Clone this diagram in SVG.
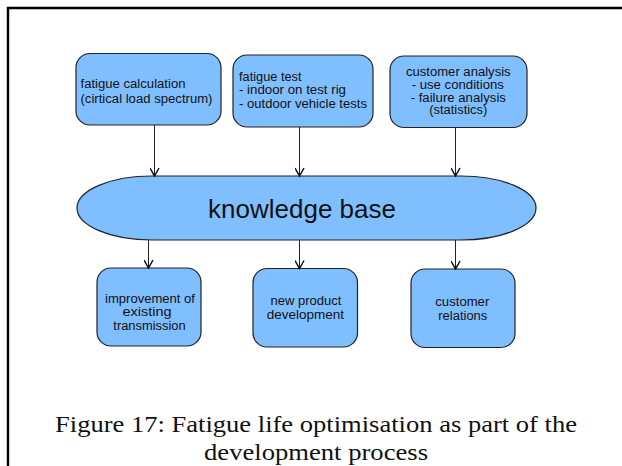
<svg xmlns="http://www.w3.org/2000/svg" width="622" height="466" viewBox="0 0 622 466">
<style>
.box{fill:#80bfff;stroke:#222;stroke-width:1.2}
.t{font-family:"Liberation Sans",Arial,sans-serif;font-size:12.5px;fill:#111}
.c{text-anchor:middle}
.big{font-family:"Liberation Sans",Arial,sans-serif;font-size:25px;fill:#111;text-anchor:middle}
.cap{font-family:"Liberation Serif","Times New Roman",serif;font-size:24px;fill:#111;text-anchor:middle}
.ln{stroke:#222;stroke-width:1;fill:none}
</style>
<defs>
<marker id="ah" viewBox="0 0 10 10" refX="9" refY="5" markerWidth="10" markerHeight="10" markerUnits="userSpaceOnUse" orient="auto">
<path d="M1,0.5 L9,5 L1,9.5" fill="none" stroke="#111" stroke-width="1.5"/>
</marker>
</defs>
<rect width="622" height="466" fill="#fff"/>
<path d="M8,466 V8 H622" fill="none" stroke="#000" stroke-width="2.4"/>
<g id="n1">
<rect class="box" x="76" y="53.5" width="145" height="71.5" rx="14"/>
<text class="t" x="80.5" y="87.5" textLength="105" lengthAdjust="spacingAndGlyphs">fatigue calculation</text>
<text class="t" x="80.5" y="102.5" textLength="132" lengthAdjust="spacingAndGlyphs">(cirtical load spectrum)</text>
</g>
<g id="n2">
<rect class="box" x="233" y="55" width="140" height="72" rx="14"/>
<text class="t" x="239" y="80.7" textLength="62.5" lengthAdjust="spacingAndGlyphs">fatigue test</text>
<text class="t" x="239" y="94.2" textLength="107" lengthAdjust="spacingAndGlyphs">- indoor on test rig</text>
<text class="t" x="239" y="107.5" textLength="128" lengthAdjust="spacingAndGlyphs">- outdoor vehicle tests</text>
</g>
<g id="n3">
<rect class="box" x="390" y="56" width="137" height="71.5" rx="14"/>
<text class="t c" x="458.3" y="75.7" textLength="104.7" lengthAdjust="spacingAndGlyphs">customer analysis</text>
<text class="t c" x="457.8" y="88.7" textLength="92.3" lengthAdjust="spacingAndGlyphs">- use conditions</text>
<text class="t c" x="458.3" y="101.7" textLength="95.3" lengthAdjust="spacingAndGlyphs">- failure analysis</text>
<text class="t c" x="458.3" y="114.3" textLength="58" lengthAdjust="spacingAndGlyphs">(statistics)</text>
</g>
<g id="kb">
<rect class="box" x="77" y="176" width="459" height="64" rx="75" ry="32"/>
<text class="big" x="302" y="218" textLength="188" lengthAdjust="spacingAndGlyphs">knowledge base</text>
</g>
<g id="o1">
<rect class="box" x="97" y="268" width="104" height="78" rx="14"/>
<text class="t c" x="150" y="302.5" textLength="90" lengthAdjust="spacingAndGlyphs">improvement of</text>
<text class="t c" x="147" y="316" textLength="49" lengthAdjust="spacingAndGlyphs">existing</text>
<text class="t c" x="149.5" y="329.5" textLength="72.3" lengthAdjust="spacingAndGlyphs">transmission</text>
</g>
<g id="o2">
<rect class="box" x="253" y="268.5" width="104.5" height="78.5" rx="14"/>
<text class="t c" x="306" y="305" textLength="71" lengthAdjust="spacingAndGlyphs">new product</text>
<text class="t c" x="305.3" y="319" textLength="77.3" lengthAdjust="spacingAndGlyphs">development</text>
</g>
<g id="o3">
<rect class="box" x="411" y="269" width="104" height="78.5" rx="14"/>
<text class="t c" x="462.3" y="305.5" textLength="54" lengthAdjust="spacingAndGlyphs">customer</text>
<text class="t c" x="462.8" y="319.5" textLength="49" lengthAdjust="spacingAndGlyphs">relations</text>
</g>
<g id="edges">
<line class="ln" x1="154.5" y1="125" x2="154.5" y2="176" marker-end="url(#ah)"/>
<line class="ln" x1="299.5" y1="127" x2="299.5" y2="176" marker-end="url(#ah)"/>
<line class="ln" x1="455.5" y1="127.5" x2="455.5" y2="176" marker-end="url(#ah)"/>
<line class="ln" x1="148.5" y1="240" x2="148.5" y2="268" marker-end="url(#ah)"/>
<line class="ln" x1="299.5" y1="240" x2="299.5" y2="268.5" marker-end="url(#ah)"/>
<line class="ln" x1="455.5" y1="240" x2="455.5" y2="269" marker-end="url(#ah)"/>
</g>
<text class="cap" x="316" y="432" textLength="522" lengthAdjust="spacingAndGlyphs">Figure 17: Fatigue life optimisation as part of the</text>
<text class="cap" x="316" y="460" textLength="224" lengthAdjust="spacingAndGlyphs">development process</text>
</svg>
